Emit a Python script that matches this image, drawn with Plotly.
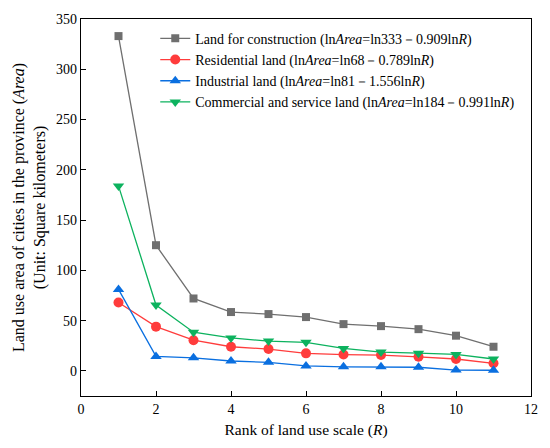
import plotly.graph_objects as go

ranks = [1, 2, 3, 4, 5, 6, 7, 8, 9, 10, 11]
construction = [333, 125, 72, 58.5, 56.5, 53.5, 46.5, 44.5, 41.5, 35, 24]
residential = [68, 44, 30.5, 24, 21.7, 17.4, 16.2, 15.7, 14, 11.8, 7.5]
industrial = [81, 14.4, 13, 9.8, 8.5, 4.9, 4, 4, 3.6, 0.8, 0.6]
commercial = [184, 65.5, 38.5, 32.8, 29.6, 28.4, 22.3, 18.7, 17.6, 16.4, 11.8]

series = [
    ("Land for construction (ln<i>Area</i>=ln333－0.909ln<i>R</i>)", construction, "#6f6f6f", "square", 8),
    ("Residential land (ln<i>Area</i>=ln68－0.789ln<i>R</i>)", residential, "#ff3c3c", "circle", 10),
    ("Industrial land (ln<i>Area</i>=ln81－1.556ln<i>R</i>)", industrial, "#0a6fe0", "triangle-up", 10),
    ("Commercial and service land (ln<i>Area</i>=ln184－0.991ln<i>R</i>)", commercial, "#0cb25e", "triangle-down", 10),
]

fig = go.Figure()
for name, vals, color, symbol, size in series:
    fig.add_trace(
        go.Scatter(
            x=ranks,
            y=vals,
            mode="lines+markers",
            name=name,
            line={"color": color, "width": 1.3},
            marker={"symbol": symbol, "size": size, "color": color},
        )
    )

axis_common = dict(
    showline=True,
    linecolor="black",
    linewidth=1.3,
    mirror=True,
    ticks="inside",
    ticklen=5,
    tickcolor="black",
    showgrid=False,
    zeroline=False,
    tickfont={"size": 14, "color": "black"},
)

fig.update_layout(
    width=550,
    height=448,
    paper_bgcolor="white",
    plot_bgcolor="white",
    font={"family": "'Liberation Serif', 'DejaVu Serif', serif", "color": "black", "size": 14},
    margin={"l": 81, "r": 14, "t": 16, "b": 50},
    showlegend=True,
    legend={
        "x": 0.165,
        "y": 0.99,
        "xanchor": "left",
        "yanchor": "top",
        "bgcolor": "rgba(0,0,0,0)",
        "font": {"size": 14},
        "tracegroupgap": 0,
        "itemwidth": 30,
    },
    xaxis=dict(
        axis_common,
        range=[0, 12],
        dtick=2,
        title={"text": "Rank of land use scale (<i>R</i>)", "font": {"size": 15.5}, "standoff": 8},
    ),
    yaxis=dict(
        axis_common,
        range=[-25, 350],
        tickvals=[0, 50, 100, 150, 200, 250, 300, 350],
        title={
            "text": "Land use area of cities in the province (<i>Area</i>)<br>(Unit: Square kilometers)",
            "font": {"size": 16},
            "standoff": 6,
        },
    ),
)

# page body has a default margin; drop it so the 550x448 figure fills the window
fig.write_html(
    "out.html",
    config={"displayModeBar": False},
    post_script="document.body.style.margin='0';",
)
